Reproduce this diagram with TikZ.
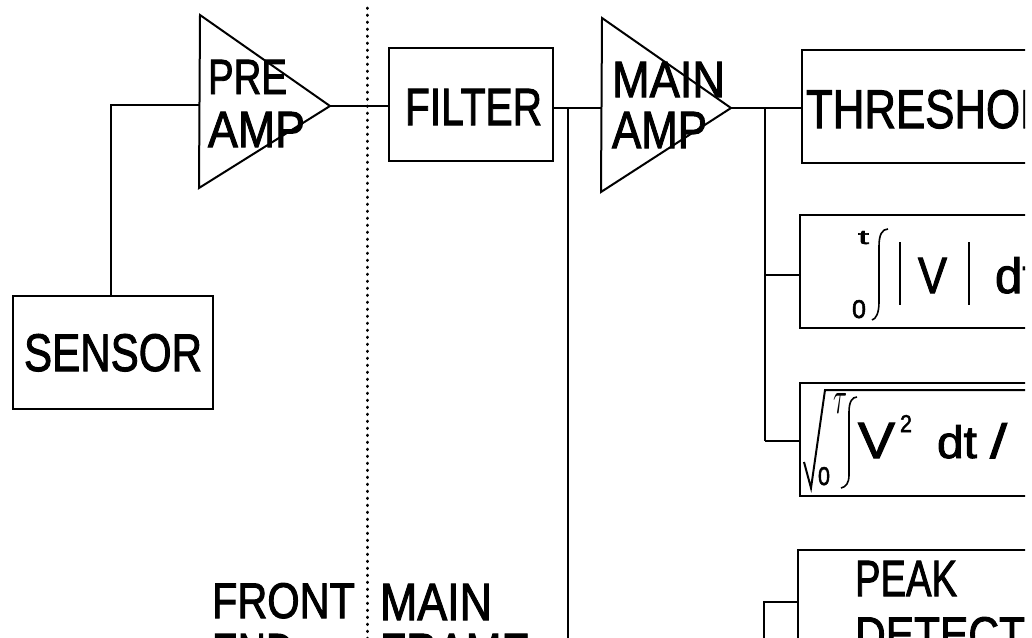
\documentclass[tikz,border=0pt]{standalone}
\usepackage{fontspec}
\usepackage{graphicx}
\setmainfont{Liberation Sans}[RawFeature={embolden=2}]
\newcommand\wtxt[3]{\resizebox{#1pt}{#2pt}{#3}}
\tikzset{
  lbl/.style={inner sep=0pt, outer sep=0pt, anchor=base west},
  box/.style={draw, line width=2pt, inner sep=0pt, minimum height=113pt},
  wire/.style={line width=2pt},
  thin/.style={line width=1.6pt},
  sep/.style={line width=3pt, line cap=round, dash pattern=on 0.5pt off 6.5pt}
}
\begin{document}
\begin{tikzpicture}[x=1pt,y=-1pt]
\useasboundingbox (0,0) rectangle (1032,637);
\fill[white] (0,0) rectangle (1032,637);
\clip (0,0) rectangle (1025,637);

% boxes
\node[box, minimum width=200pt] (sensor) at (113,352.5) {};
\node[box, minimum width=164pt] (filter) at (471,104.5) {};
\node[box, minimum width=300pt] (thr) at (952,106.5) {};
\node[box, minimum width=300pt] (integ) at (950,271.5) {};
\node[box, minimum width=300pt] (sq) at (950,439.5) {};
\node[box, minimum width=300pt] (pk) at (948,606.5) {};

% amplifiers
\coordinate (pa1) at (200,15);
\coordinate (pa2) at (199,188);
\coordinate (paout) at (330,106);
\coordinate (pain) at (199,105);
\draw[wire] (pa1) -- (paout) -- (pa2) -- cycle;
\coordinate (ma1) at (602,18);
\coordinate (ma2) at (601,192);
\coordinate (maout) at (731,108);
\coordinate (main) at (601,108);
\draw[wire] (ma1) -- (maout) -- (ma2) -- cycle;

% labels
\node[lbl] (tsensor) at (24,371) {\wtxt{178}{37}{SENSOR}};
\node[lbl] (tpre) at (208,94) {\wtxt{79}{34}{PRE}};
\node[lbl] (tamp1) at (208,147) {\wtxt{97}{35}{AMP}};
\node[lbl] (tfilter) at (405,125) {\wtxt{137}{36}{FILTER}};
\node[lbl] (tmain) at (612,97) {\wtxt{113}{35}{MAIN}};
\node[lbl] (tamp2) at (612,148) {\wtxt{95}{36}{AMP}};
\node[lbl] (tthr) at (806,128) {\wtxt{270}{38}{THRESHOLD}};
\node[lbl] (tpeak) at (855,596) {\wtxt{102}{35}{PEAK}};
\node[lbl] (tdetect) at (855,652) {\wtxt{170}{35}{DETECT}};
\node[lbl] (tfront) at (212,618) {\wtxt{143}{35}{FRONT}};
\node[lbl] (tend) at (212,669) {\wtxt{82}{35}{END}};
\node[lbl] (tmainf) at (380,620) {\wtxt{112}{36}{MAIN}};
\node[lbl] (tframe) at (380,670) {\wtxt{150}{36}{FRAME}};

% integral |V| dt
\node[lbl] (it) at (858,244) {\wtxt{11}{13}{t}};
\node[lbl] (i0) at (852,318) {\wtxt{14}{18}{0}};
\draw[thin] (888,229) .. controls (882,229) and (879,235) .. (879,246) -- (879,302) .. controls (879,313) and (876,319) .. (872,320);
\coordinate (bar1a) at (900,242); \coordinate (bar1b) at (900,305);
\coordinate (bar2a) at (969,242); \coordinate (bar2b) at (969,305);
\draw[line width=2.5pt] (bar1a) -- (bar1b);
\draw[line width=2.5pt] (bar2a) -- (bar2b);
\node[lbl] (iv) at (918,293) {\wtxt{29}{35}{V}};
\node[lbl] (idt) at (995,293) {\wtxt{41}{36}{dt}};

% sqrt of integral V^2 dt /
\coordinate (r1) at (804,462);
\coordinate (r2) at (811,488);
\coordinate (r3) at (825,390);
\coordinate (r4) at (1040,390);
\draw[wire] (r1) -- (r2) -- (r3) -- (r4);
\node[lbl] (stau) at (833,413) {\wtxt{14}{20}{$\tau$}};
\node[lbl] (s0) at (818,485) {\wtxt{12}{18}{0}};
\draw[thin] (857,397) .. controls (852,397) and (849,402) .. (849,412) -- (849,475) .. controls (849,483) and (846,487) .. (841,488);
\node[lbl] (sv) at (858,458) {\wtxt{37}{35}{V}};
\node[lbl] (s2) at (900,432) {\wtxt{12}{17}{2}};
\node[lbl] (sdt) at (937,458) {\wtxt{40}{33}{dt}};
\node[lbl] (sslash) at (990,458) {\wtxt{17}{35}{/}};

% connectors
\draw[wire] ([xshift=-2pt]sensor.north) |- (pain);
\draw[wire] (paout) -- (paout -| filter.west);
\draw[wire] (filter.east |- main) -- (main);
\coordinate (j1) at (568,108);
\coordinate (j1b) at (568,645);
\draw[wire] (j1) -- (j1b);
\draw[wire] (maout) -- (maout -| thr.west);
\coordinate (j2) at (765,108);
\coordinate (b1) at (765,275);
\coordinate (b2) at (765,441);
\draw[wire] (j2) -- (b2);
\draw[wire] (b1) -- (b1 -| integ.west);
\draw[wire] (b2) -- (b2 -| sq.west);
\coordinate (pkc) at (764,602);
\coordinate (pkb) at (764,645);
\draw[wire] (pkb) -- (pkc) -- (pkc -| pk.west);

% front end / main frame separator
\coordinate (dtop) at (367,8);
\coordinate (dbot) at (367,645);
\draw[sep] (dtop) -- (dbot);
\end{tikzpicture}
\end{document}
